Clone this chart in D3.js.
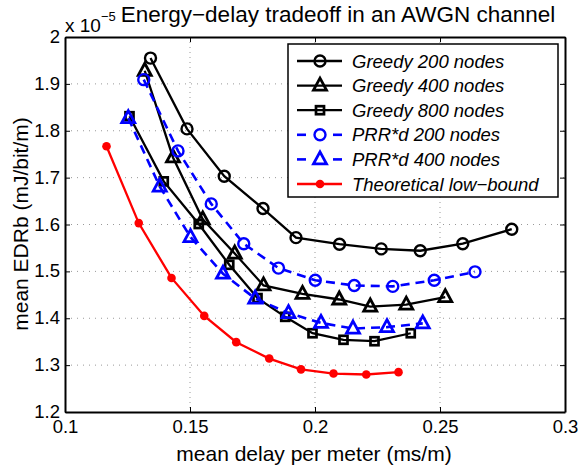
<!DOCTYPE html>
<meta charset="utf-8">
<script src="https://d3js.org/d3.v7.min.js"></script>
<style>
  body { margin: 0; background: #fff; }
  text { font-family: "Liberation Sans", Arial, sans-serif; }
</style>
<div id="chart"></div>
<script>

// data (EDRb in units of 1e-5)
var greedy200x = [0.1342, 0.1488, 0.1637, 0.1792, 0.1924, 0.2098, 0.2265, 0.2421, 0.2591, 0.2787];
var greedy200y = [1.955, 1.804, 1.703, 1.634, 1.572, 1.558, 1.548, 1.544, 1.559, 1.590];

var greedy400x = [0.1319, 0.1432, 0.1551, 0.1679, 0.1794, 0.1950, 0.2097, 0.2221, 0.2365, 0.2521];
var greedy400y = [1.928, 1.743, 1.611, 1.538, 1.470, 1.452, 1.440, 1.425, 1.429, 1.445];

var greedy800x = [0.1258, 0.1395, 0.1535, 0.1657, 0.1770, 0.1881, 0.1990, 0.2114, 0.2238, 0.2383];
var greedy800y = [1.831, 1.692, 1.601, 1.514, 1.443, 1.403, 1.368, 1.354, 1.351, 1.368];

var prr200x = [0.1315, 0.1452, 0.1585, 0.1715, 0.1854, 0.2001, 0.2157, 0.2311, 0.2477, 0.2640];
var prr200y = [1.909, 1.757, 1.644, 1.559, 1.507, 1.481, 1.470, 1.468, 1.481, 1.499];

var prr400x = [0.1253, 0.1379, 0.1502, 0.1632, 0.1761, 0.1894, 0.2024, 0.2152, 0.2288, 0.2431];
var prr400y = [1.827, 1.681, 1.573, 1.495, 1.442, 1.411, 1.390, 1.378, 1.381, 1.389];

var boundx = [0.1166, 0.1295, 0.1426, 0.1557, 0.1685, 0.1817, 0.1944, 0.2074, 0.2205, 0.2334];
var boundy = [1.767, 1.603, 1.486, 1.405, 1.349, 1.314, 1.291, 1.282, 1.280, 1.285];

var xTicks = [0.1, 0.15, 0.2, 0.25, 0.3];
var yTicks = [1.2, 1.3, 1.4, 1.5, 1.6, 1.7, 1.8, 1.9, 2];

var series = [
  {name: "Greedy 200 nodes", xs: greedy200x, ys: greedy200y, color: "#000", dash: null, marker: "circle"},
  {name: "Greedy 400 nodes", xs: greedy400x, ys: greedy400y, color: "#000", dash: null, marker: "triangle"},
  {name: "Greedy 800 nodes", xs: greedy800x, ys: greedy800y, color: "#000", dash: null, marker: "square"},
  {name: "PRR*d 200 nodes", xs: prr200x, ys: prr200y, color: "#0000ff", dash: "9,6", marker: "circle"},
  {name: "PRR*d 400 nodes", xs: prr400x, ys: prr400y, color: "#0000ff", dash: "9,6", marker: "triangle"},
  {name: "Theoretical low\u2212bound", xs: boundx, ys: boundy, color: "#ff0000", dash: null, marker: "dot"}
];

var W = 579, H = 474;
var margin = {top: 37, right: 14, bottom: 62, left: 65};
var width = W - margin.left - margin.right,
    height = H - margin.top - margin.bottom;

var svg = d3.select("#chart").append("svg")
    .attr("width", W).attr("height", H);
var g = svg.append("g")
    .attr("transform", "translate(" + margin.left + "," + margin.top + ")");

var x = d3.scaleLinear().domain([0.1, 0.3]).range([0, width]);
var y = d3.scaleLinear().domain([1.2, 2]).range([height, 0]);

// dotted grid
g.selectAll(".vgrid").data(xTicks.slice(1, -1)).enter().append("line")
  .attr("x1", d => x(d)).attr("x2", d => x(d))
  .attr("y1", 0).attr("y2", height)
  .attr("stroke", "#999").attr("stroke-width", 1).attr("stroke-dasharray", "1,4");
g.selectAll(".hgrid").data(yTicks.slice(1, -1)).enter().append("line")
  .attr("x1", 0).attr("x2", width)
  .attr("y1", d => y(d)).attr("y2", d => y(d))
  .attr("stroke", "#999").attr("stroke-width", 1).attr("stroke-dasharray", "1,5");

// axes, ticks inward, on all sides
function fmt(d) { return d3.format("~g")(d); }
var axB = g.append("g").attr("transform", "translate(0," + height + ")")
  .call(d3.axisBottom(x).tickValues(xTicks).tickFormat(fmt).tickSizeInner(-5).tickSizeOuter(0).tickPadding(10));
var axL = g.append("g")
  .call(d3.axisLeft(y).tickValues(yTicks).tickFormat(fmt).tickSizeInner(-5).tickSizeOuter(0).tickPadding(8));
var axT = g.append("g")
  .call(d3.axisTop(x).tickValues(xTicks).tickFormat("").tickSizeInner(-5).tickSizeOuter(0));
var axR = g.append("g").attr("transform", "translate(" + width + ",0)")
  .call(d3.axisRight(y).tickValues(yTicks).tickFormat("").tickSizeInner(-5).tickSizeOuter(0));
[axB, axL, axT, axR].forEach(function(a) {
  a.select(".domain").attr("stroke", "#000").attr("stroke-width", 2);
  a.selectAll(".tick line").attr("stroke", "#000");
  a.selectAll("text").attr("fill", "#000").style("font-size", "18.5px");
});
axB.selectAll("text").attr("dy", "0.6em");
axL.selectAll("text").attr("dx", "3").attr("dy", "0.3em");

// marker drawing
function drawMarker(sel, type, color) {
  if (type === "circle") {
    sel.append("circle").attr("r", 5.5).attr("fill", "none")
      .attr("stroke", color).attr("stroke-width", 2.4);
  } else if (type === "triangle") {
    sel.append("path").attr("d", "M0,-7.5L6.5,4.5L-6.5,4.5Z").attr("fill", "none")
      .attr("stroke", color).attr("stroke-width", 2.8).attr("stroke-linejoin", "miter");
  } else if (type === "square") {
    sel.append("rect").attr("x", -4).attr("y", -4).attr("width", 8).attr("height", 8)
      .attr("fill", "none").attr("stroke", color).attr("stroke-width", 2.7);
  } else if (type === "dot") {
    sel.append("circle").attr("r", 4.3).attr("fill", color).attr("stroke", "none");
  }
}

var line = d3.line().x(d => x(d[0])).y(d => y(d[1]));

series.forEach(function(s) {
  var pts = s.xs.map(function(v, i) { return [v, s.ys[i]]; });
  g.append("path").datum(pts)
    .attr("d", line).attr("fill", "none")
    .attr("stroke", s.color)
    .attr("stroke-width", s.dash ? 2.6 : 2.3)
    .attr("stroke-dasharray", s.dash);
  pts.forEach(function(p) {
    var m = g.append("g").attr("transform", "translate(" + x(p[0]) + "," + y(p[1]) + ")");
    drawMarker(m, s.marker, s.color);
  });
});

// legend
var lg = svg.append("g").attr("transform", "translate(288,44)");
lg.append("rect").attr("width", 270).attr("height", 153)
  .attr("fill", "#fff").attr("stroke", "#000").attr("stroke-width", 1.5);
series.forEach(function(s, i) {
  var row = lg.append("g").attr("transform", "translate(0," + (17 + i * 24.6) + ")");
  if (s.dash) {
    row.append("line").attr("x1", 9).attr("x2", 18).attr("stroke", s.color).attr("stroke-width", 2.6);
    row.append("line").attr("x1", 45).attr("x2", 54).attr("stroke", s.color).attr("stroke-width", 2.6);
  } else {
    row.append("line").attr("x1", 9).attr("x2", 54).attr("stroke", s.color).attr("stroke-width", 2.3);
  }
  var m = row.append("g").attr("transform", "translate(32,0)");
  drawMarker(m, s.marker, s.color);
  row.append("text").attr("x", 64).attr("y", 6.5)
    .style("font-size", "18.5px").style("font-style", "italic").text(s.name);
});

// titles
svg.append("text").attr("x", 338).attr("y", 22).attr("text-anchor", "middle")
  .style("font-size", "22.5px").text("Energy\u2212delay tradeoff in an AWGN channel");
var ex = svg.append("text").attr("x", 65).attr("y", 32).style("font-size", "19px");
ex.append("tspan").text("x 10");
ex.append("tspan").attr("dy", -11).style("font-size", "13px").text("\u22125");

svg.append("text").attr("x", 314).attr("y", 461).attr("text-anchor", "middle")
  .style("font-size", "21px").text("mean delay per meter (ms/m)");
svg.append("text").attr("transform", "translate(28,224) rotate(-90)").attr("text-anchor", "middle")
  .style("font-size", "21px").text("mean EDRb (mJ/bit/m)");

</script>
